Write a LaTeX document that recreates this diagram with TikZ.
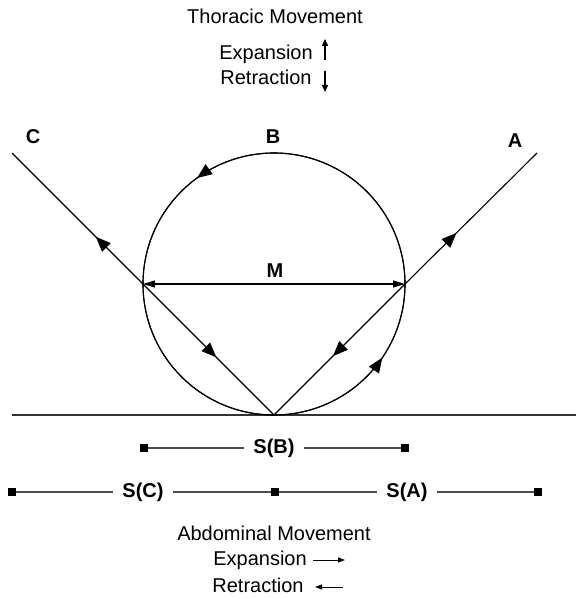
\documentclass[tikz,border=0pt]{standalone}
\usepackage{fontspec}
\setmainfont{Liberation Sans}
\usetikzlibrary{arrows.meta,decorations.markings}
\begin{document}
\begin{tikzpicture}[x=1pt,y=-1pt,line width=1.1pt,
		font=\fontsize{20}{24}\selectfont,
		lbl/.style={font=\fontsize{20}{24}\selectfont\bfseries,inner xsep=9pt},
		sq/.style={draw,fill=black,inner sep=0pt,minimum size=6pt},
		span/.style={black!70,line width=1.3pt},
		flow/.style={postaction={decorate,decoration={markings,
			mark=at position #1 with {\arrow{Triangle[length=15pt,width=12pt]}}}}},
		vsmall/.style={line width=1.4pt,-{Triangle[length=7pt,width=6pt]}},
		hsmall/.style={line width=1pt,-{Triangle[length=7pt,width=5pt]}}]
		\useasboundingbox (0,0) rectangle (576,599);
		
		\node[anchor=base] (tho) at (275,24) {Thoracic Movement};
		\node[anchor=base] (tex) at (266,60) {Expansion};
		\node[anchor=base] (tre) at (266,85) {Retraction};
		\coordinate (u0) at (325,60);
		\coordinate (u1) at (325,39);
		\coordinate (d0) at (325,71);
		\coordinate (d1) at (325,92);
		\draw[vsmall] (u0) -- (u1);
		\draw[vsmall] (d0) -- (d1);
		
		\coordinate (o) at (274,284);
		\coordinate (v) at (274,415);
		\coordinate (l) at (143,284);
		\coordinate (r) at (405,284);
		\coordinate (c) at (12,153);
		\coordinate (a) at (537,153);
		\coordinate (g0) at (12,415);
		\coordinate (g1) at (576,415);
		\node[lbl] (lc) at (33,137) {C};
		\node[lbl] (lb) at (273,137) {B};
		\node[lbl] (la) at (515,141) {A};
		\node[lbl] (lm) at (275,271) {M};
		
		\draw[black!80,line width=1.3pt] (g0) -- (g1);
		\draw[flow=0.6] (v) arc[start angle=90,end angle=-270,radius=131];
		\draw[flow=0.155] (v) arc[start angle=90,end angle=-270,radius=131];
		\draw[flow=0.36] (l) -- (c);
		\draw[flow=0.56] (l) -- (v);
		\draw[flow=0.39] (r) -- (a);
		\draw[flow=0.55] (r) -- (v);
		\draw[{Triangle[length=12pt,width=7pt]}-{Triangle[length=12pt,width=7pt]}] (l) -- (r);
		
		\node[sq] (sbl) at (144,448) {};
		\node[sq] (sbr) at (405,448) {};
		\node[lbl] (sb) at (274,448) {S(B)};
		\draw[span] (sbl) -- (sb) -- (sbr);
		\node[sq] (scl) at (12,492) {};
		\node[sq] (smid) at (275,492) {};
		\node[sq] (sar) at (538,492) {};
		\node[lbl] (sc) at (143,492) {S(C)};
		\node[lbl] (sa) at (407,492) {S(A)};
		\draw[span] (scl) -- (sc) -- (smid);
		\draw[span] (smid) -- (sa) -- (sar);
		
		\node[anchor=base] (abd) at (274,540) {Abdominal Movement};
		\node[anchor=base] (bex) at (260,565) {Expansion};
		\node[anchor=base] (bre) at (258,592) {Retraction};
		\coordinate (e0) at (313,560);
		\coordinate (e1) at (345,560);
		\coordinate (t0) at (343,587);
		\coordinate (t1) at (315,587);
		\draw[hsmall] (e0) -- (e1);
		\draw[hsmall] (t0) -- (t1);
	\end{tikzpicture}
\end{document}
